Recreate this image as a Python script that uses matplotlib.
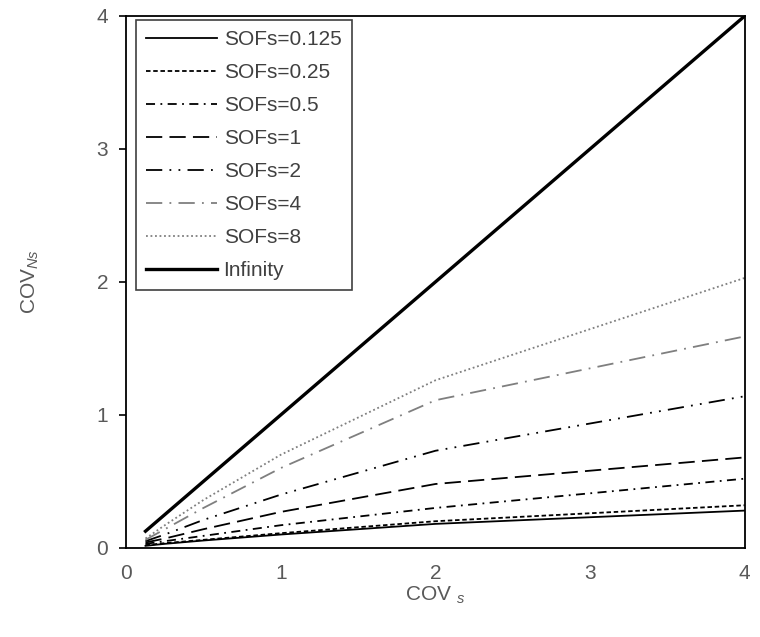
import matplotlib
matplotlib.use('Agg')
import matplotlib.pyplot as plt
import numpy as np

plt.rcParams['font.family'] = ['Liberation Sans', 'DejaVu Sans']
plt.rcParams['mathtext.fontset'] = 'custom'
plt.rcParams['mathtext.rm'] = 'Liberation Sans'
plt.rcParams['mathtext.it'] = 'Liberation Sans:italic'

#---  data  ---
cov_s = [0.125, 0.25, 0.5, 1, 2, 4]
sofs_0125 = [0.015, 0.03, 0.055, 0.10, 0.18, 0.28]
sofs_025 = [0.02, 0.035, 0.06, 0.11, 0.20, 0.32]
sofs_05 = [0.03, 0.05, 0.09, 0.17, 0.30, 0.52]
sofs_1 = [0.04, 0.07, 0.14, 0.27, 0.48, 0.68]
sofs_2 = [0.05, 0.10, 0.21, 0.40, 0.73, 1.14]
sofs_4 = [0.06, 0.14, 0.30, 0.60, 1.11, 1.59]
sofs_8 = [0.07, 0.17, 0.36, 0.70, 1.26, 2.03]
infinity = [0.125, 0.25, 0.5, 1, 2, 4]

labels = ['SOFs=0.125', 'SOFs=0.25', 'SOFs=0.5', 'SOFs=1',
          'SOFs=2', 'SOFs=4', 'SOFs=8', 'Infinity']

#---  creates plot  ---
fig = plt.figure(figsize=(7.6, 6.37), dpi=100)
ax = fig.add_axes([0.166, 0.140, 0.814, 0.835])

lw = 1.3
gray = '#7f7f7f'
ax.plot(cov_s, sofs_0125, color='black', lw=lw, ls='-', label=labels[0])
ax.plot(cov_s, sofs_025, color='black', lw=lw, ls=(0, (2.5, 1.5)), label=labels[1])
ax.plot(cov_s, sofs_05, color='black', lw=lw, ls=(0, (5, 3, 1, 3)), label=labels[2])
ax.plot(cov_s, sofs_1, color='black', lw=lw, ls=(0, (9, 4)), label=labels[3])
ax.plot(cov_s, sofs_2, color='black', lw=lw, ls=(0, (9, 4, 1, 4, 1, 4)), label=labels[4])
ax.plot(cov_s, sofs_4, color=gray, lw=lw, ls=(0, (9, 4, 1, 4)), label=labels[5])
ax.plot(cov_s, sofs_8, color=gray, lw=lw, ls=(0, (1, 1.5)), label=labels[6])
ax.plot(cov_s, infinity, color='black', lw=2.4, ls='-', label=labels[7])

#---  set plot parameters  ---
ax.axis([0, 4, 0, 4])
ax.set_xticks([0, 1, 2, 3, 4])
ax.set_yticks([0, 1, 2, 3, 4])
ax.tick_params(direction='out', width=1.2, color='black',
               labelsize=15, labelcolor='#595959')
ax.tick_params(axis='x', length=0, pad=12)
ax.tick_params(axis='y', length=5, pad=8)
for sp in ax.spines.values():
    sp.set_linewidth(1.3)
    sp.set_color('black')

ax.set_xlabel('COV $_{\\mathit{s}}$', fontsize=15, color='#595959', labelpad=1)
ax.set_ylabel('COV$_{\\mathit{Ns}}$', fontsize=15, color='#595959', labelpad=40)

leg = ax.legend(loc='upper left', bbox_to_anchor=(0.016, 0.9925), fontsize=15,
                handlelength=3.4, handletextpad=0.3, labelspacing=0.67,
                borderaxespad=0, fancybox=False, framealpha=1,
                edgecolor='#404040', borderpad=0.5)
leg.get_frame().set_linewidth(1.2)
for t in leg.get_texts():
    t.set_color('#404040')

plt.savefig('out.png')
